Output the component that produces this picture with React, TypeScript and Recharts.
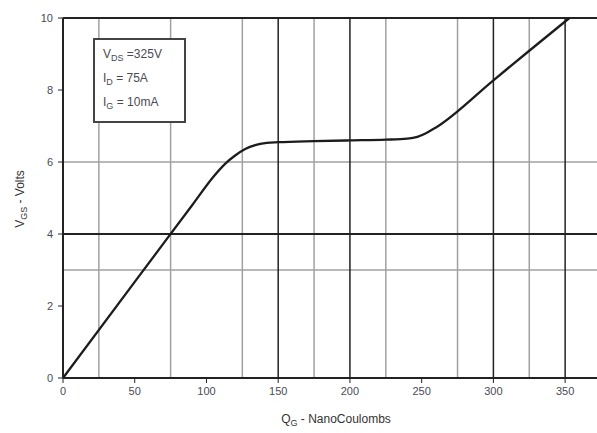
import { LineChart, Line, XAxis, YAxis, ReferenceLine } from 'recharts';

// Gate charge curve (nC -> V)
const CHARGE_NC = [0, 50, 90, 105, 113, 120, 127, 134, 142, 150, 175, 200, 225, 240, 247, 253, 260, 300, 325, 353];
const GATE_VOLTS = [0, 2.67, 4.8, 5.6, 5.95, 6.18, 6.36, 6.47, 6.53, 6.55, 6.58, 6.6, 6.62, 6.65, 6.7, 6.8, 6.96, 8.27, 9.09, 10];

const X_TICKS = [0, 50, 100, 150, 200, 250, 300, 350];
const Y_TICKS = [0, 2, 4, 6, 8, 10];

// grid lines drawn on the original sheet
const LIGHT_X = [25, 75, 125, 175, 225, 275, 325];
const HEAVY_X = [150, 200, 300, 350];
const LIGHT_Y = [3, 6];
const HEAVY_Y = [4, 10];

const CONDITIONS = [
  { sym: 'V', sub: 'DS', value: ' =325V' },
  { sym: 'I', sub: 'D', value: ' = 75A' },
  { sym: 'I', sub: 'G', value: ' = 10mA' },
];

const FONT = '"Liberation Sans", Arial, sans-serif';
const INK = '#222';
const LIGHT = '#a0a0a0';
const TEXT = '#4a4a55';

const data = CHARGE_NC.map((q, i) => ({ q, v: GATE_VOLTS[i] }));

export default function App() {
  return (
    <div
      style={{
        position: 'absolute',
        left: 0,
        top: 0,
        width: 597,
        height: 433,
        overflow: 'hidden',
        background: '#fff',
        fontFamily: FONT,
      }}
    >
      <LineChart
        width={601}
        height={433}
        data={data}
        margin={{ top: 18, right: 0, bottom: 0, left: 0 }}
      >
        <XAxis
          dataKey="q"
          type="number"
          domain={[0, 375]}
          ticks={X_TICKS}
          height={55}
          axisLine={{ stroke: INK, strokeWidth: 2 }}
          tickLine={{ stroke: INK }}
          tickSize={5}
          tickMargin={4}
          tick={{ fontSize: 11, fill: TEXT, fontFamily: FONT }}
        />
        <YAxis
          type="number"
          domain={[0, 10]}
          ticks={Y_TICKS}
          width={63}
          axisLine={{ stroke: INK, strokeWidth: 2 }}
          tickLine={{ stroke: INK }}
          tickSize={5}
          tickMargin={5}
          tick={{ fontSize: 11, fill: TEXT, fontFamily: FONT }}
        />
        {LIGHT_X.map((x) => (
          <ReferenceLine key={'lx' + x} x={x} stroke={LIGHT} strokeWidth={1.5} />
        ))}
        {LIGHT_Y.map((y) => (
          <ReferenceLine key={'ly' + y} y={y} stroke={LIGHT} strokeWidth={1.5} />
        ))}
        {HEAVY_X.map((x) => (
          <ReferenceLine key={'hx' + x} x={x} stroke={INK} strokeWidth={1.5} />
        ))}
        {HEAVY_Y.map((y) => (
          <ReferenceLine key={'hy' + y} y={y} stroke={INK} strokeWidth={2} />
        ))}
        <Line
          type="monotone"
          dataKey="v"
          stroke="#1c1c1c"
          strokeWidth={2.3}
          dot={false}
          isAnimationActive={false}
        />
      </LineChart>

      {/* test conditions box */}
      <div
        style={{
          position: 'absolute',
          left: 93,
          top: 38,
          width: 89,
          height: 75,
          border: '2px solid #444',
          background: '#fff',
          fontSize: 12,
          color: TEXT,
          paddingTop: 6,
          boxSizing: 'content-box',
        }}
      >
        {CONDITIONS.map((c) => (
          <div key={c.sub} style={{ height: 24, lineHeight: '16px', paddingLeft: 8 }}>
            {c.sym}
            <sub style={{ fontSize: 9 }}>{c.sub}</sub>
            {c.value}
          </div>
        ))}
      </div>

      {/* y axis title */}
      <div
        style={{
          position: 'absolute',
          left: 21,
          top: 199,
          transform: 'translate(-50%, -50%) rotate(-90deg)',
          whiteSpace: 'nowrap',
          fontSize: 12,
          color: '#333',
        }}
      >
        V<sub style={{ fontSize: 9 }}>GS</sub> - Volts
      </div>

      {/* x axis title */}
      <div
        style={{
          position: 'absolute',
          left: 336,
          top: 420,
          transform: 'translate(-50%, -50%)',
          whiteSpace: 'nowrap',
          fontSize: 12,
          color: '#333',
        }}
      >
        Q<sub style={{ fontSize: 9 }}>G</sub> - NanoCoulombs
      </div>
    </div>
  );
}
